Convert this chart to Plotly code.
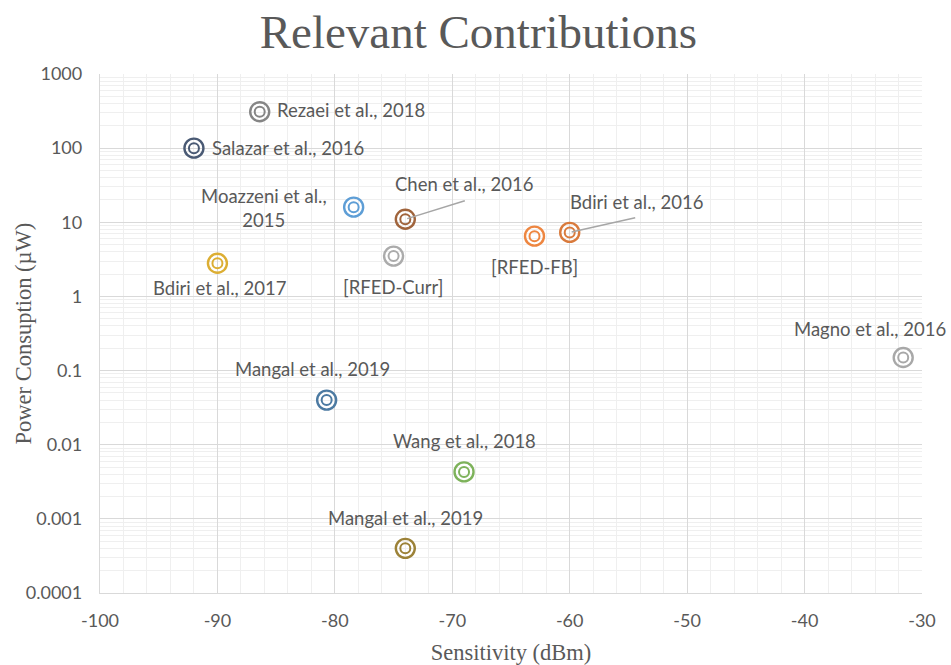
import plotly.graph_objects as go
import math

# Contributions: sensitivity (dBm) vs power consumption (uW)
labels = [
    "Rezaei et al., 2018",
    "Salazar et al., 2016",
    "Moazzeni et al.,<br>2015",
    "Chen et al., 2016",
    "[RFED-Curr]",
    "[RFED-FB]",
    "Bdiri et al., 2016",
    "Bdiri et al., 2017",
    "Magno et al., 2016",
    "Mangal et al., 2019",
    "Wang et al., 2018",
    "Mangal et al., 2019",
]
sensitivity = [-86.4, -92, -78.4, -74, -75, -63, -60, -90, -31.6, -80.7, -69, -74]
power = [310, 100, 16, 11, 3.5, 6.5, 7.3, 2.8, 0.15, 0.04, 0.0043, 0.0004]
colors = [
    "#858585", "#4a5a74", "#5e9ed6", "#a0643c", "#ababab", "#ee8640",
    "#d97a3c", "#dcae33", "#a8a8a8", "#4c7aa2", "#7db25a", "#9c8238",
]

# label placement: (xanchor, xshift, yshift, leader line end offset or None)
placement = [
    ("left", 15, 2, None),
    ("left", 16, 0, None),
    ("center", -90, -1, None),
    ("center", 59, 35, (61, -19)),
    ("center", 0, -31, None),
    ("center", 0, -31, None),
    ("center", 67, 30, (67, -15)),
    ("center", 2, -25, None),
    ("right", 45, 29, None),
    ("center", -14, 31, None),
    ("center", 0, 31, None),
    ("center", 0, 30, None),
]

y_tickvals = [0.0001, 0.001, 0.01, 0.1, 1, 10, 100, 1000]
y_ticktext = ["0.0001", "0.001", "0.01", "0.1", "1", "10", "100", "1000"]
x_tickvals = [-100, -90, -80, -70, -60, -50, -40, -30]
x_ticktext = ["-100", "-90", "-80", "-70", "-60", "-50", "-40", "-30"]

sans = "Lato, Carlito, sans-serif"
label_font = dict(family=sans, size=18.5, color="#595959")
tick_font = dict(family=sans, size=18, color="#595959")
serif = "Liberation Serif, Times New Roman, serif"

fig = go.Figure()

# double-ring markers: outer ring then inner ring
for size, width in [(19, 2.4), (10, 2.0)]:
    fig.add_trace(go.Scatter(
        x=sensitivity, y=power, mode="markers",
        marker=dict(symbol="circle-open", size=size, color=colors,
                    line=dict(width=width, color=colors)),
        showlegend=False, hoverinfo="skip", cliponaxis=False,
    ))

for lab, xv, yv, (anchor, xs, ys, leader) in zip(labels, sensitivity, power, placement):
    if leader is not None:
        # thin grey leader line from the marker towards its label
        fig.add_annotation(
            x=xv, y=math.log10(yv), text=" ", showarrow=True,
            ax=leader[0], ay=leader[1], arrowhead=0, arrowwidth=1.5,
            arrowcolor="#a6a6a6", standoff=2, startstandoff=0,
            font=dict(size=1),
        )
    fig.add_annotation(
        x=xv, y=math.log10(yv), text=lab, showarrow=False,
        xanchor=anchor, yanchor="middle", xshift=xs, yshift=ys,
        font=label_font, align="center",
    )

# vertical axis title
fig.add_annotation(
    text="Power Consuption (µW)", xref="paper", yref="paper",
    x=-0.0925, y=0.5, xanchor="center", yanchor="middle", textangle=-90,
    showarrow=False, font=dict(family=serif, size=22.5, color="#595959"),
)

fig.update_layout(
    width=951, height=665,
    margin=dict(l=100, r=29, t=74, b=72),
    paper_bgcolor="white", plot_bgcolor="white",
    title=dict(text="Relevant Contributions", x=0.503, xanchor="center",
               y=0.952, yanchor="middle",
               font=dict(family=serif, size=47, color="#595959")),
    xaxis=dict(
        range=[-100, -30], tickvals=x_tickvals, ticktext=x_ticktext,
        automargin=False,
        showgrid=True, gridcolor="#d9d9d9", gridwidth=1.3,
        minor=dict(dtick=2, showgrid=True, gridcolor="#efefef", gridwidth=1),
        zeroline=False, showline=True, linecolor="#d9d9d9", linewidth=1.3,
        ticks="", tickfont=tick_font, ticklabelstandoff=11,
        title=dict(text="Sensitivity (dBm)", standoff=14,
                   font=dict(family=serif, size=22.5, color="#595959")),
    ),
    yaxis=dict(
        type="log", range=[-4, 3], tickvals=y_tickvals, ticktext=y_ticktext,
        automargin=False,
        showgrid=True, gridcolor="#d9d9d9", gridwidth=1.3,
        minor=dict(dtick="D1", showgrid=True, gridcolor="#efefef", gridwidth=1),
        zeroline=False, showline=True, linecolor="#d9d9d9", linewidth=1.3,
        ticks="", ticklabelstandoff=13, tickfont=tick_font,
    ),
)

fig.write_html("out.html")
